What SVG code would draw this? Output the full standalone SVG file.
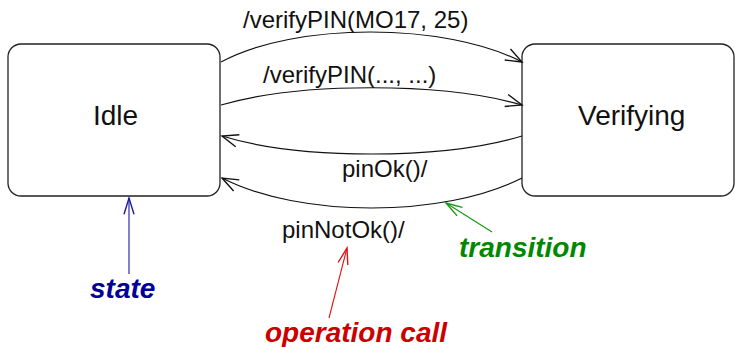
<svg xmlns="http://www.w3.org/2000/svg" width="735" height="347" viewBox="0 0 735 347">
  <style>
    .state rect { fill: #ffffff; stroke: #222222; stroke-width: 1.3; }
    .name { font-family: "Liberation Sans", Arial, sans-serif; font-size: 28px; fill: #111111; }
    .lbl { font-family: "Liberation Sans", Arial, sans-serif; font-size: 24px; fill: #111111; }
    .conn { fill: none; stroke: #111111; stroke-width: 1.2; marker-end: url(#open); }
    .note { font-family: "Liberation Sans", Arial, sans-serif; font-size: 28px; font-weight: bold; font-style: italic; }
    .ptr { fill: none; stroke-width: 1.1; }
  </style>
  <defs>
    <marker id="open" markerUnits="userSpaceOnUse" markerWidth="20" markerHeight="20" viewBox="-14 -8 16 16" refX="0" refY="0" orient="auto">
      <path d="M-13,-5 L0,0 L-13,5" fill="none" stroke="#111111" stroke-width="1.1"/>
    </marker>
    <marker id="openBlue" markerUnits="userSpaceOnUse" markerWidth="20" markerHeight="20" viewBox="-14 -8 16 16" refX="0" refY="0" orient="auto">
      <path d="M-13,-4 L0,0 L-13,4" fill="none" stroke="#1a1aa0" stroke-width="1.1"/>
    </marker>
    <marker id="openGreen" markerUnits="userSpaceOnUse" markerWidth="20" markerHeight="20" viewBox="-14 -8 16 16" refX="0" refY="0" orient="auto">
      <path d="M-13,-4 L0,0 L-13,4" fill="none" stroke="#119911" stroke-width="1.1"/>
    </marker>
    <marker id="openRed" markerUnits="userSpaceOnUse" markerWidth="20" markerHeight="20" viewBox="-14 -8 16 16" refX="0" refY="0" orient="auto">
      <path d="M-13,-4 L0,0 L-13,4" fill="none" stroke="#dd1111" stroke-width="1.1"/>
    </marker>
  </defs>

  <rect width="735" height="347" fill="#ffffff"/>

  <!-- states -->
  <g id="idle" class="state">
    <rect x="8" y="44" width="212" height="152" rx="13" ry="13"/>
    <text class="name" x="93" y="125">Idle</text>
  </g>
  <g id="verifying" class="state">
    <rect x="522" y="44" width="212" height="152" rx="13" ry="13"/>
    <text class="name" x="578" y="125">Verifying</text>
  </g>

  <!-- transitions -->
  <g id="connectors">
    <path class="conn" d="M221,62 C295,22 445,22 522,62"/>
    <path class="conn" d="M221,105 C300,82 443,82 522,105"/>
    <path class="conn" d="M522,136 C443,160 300,160 222,136"/>
    <path class="conn" d="M522,178 C443,218 300,218 222,178"/>
  </g>

  <!-- transition labels -->
  <g id="labels">
    <text class="lbl" x="243" y="28">/verifyPIN(MO17, 25)</text>
    <text class="lbl" x="263" y="83">/verifyPIN(..., ...)</text>
    <text class="lbl" x="342" y="177">pinOk()/</text>
    <text class="lbl" x="282" y="238">pinNotOk()/</text>
  </g>

  <!-- annotations -->
  <g id="note-state">
    <path class="ptr" d="M129,274 L129,198" stroke="#1a1aa0" marker-end="url(#openBlue)"/>
    <text class="note" x="90" y="298" fill="#000099">state</text>
  </g>
  <g id="note-transition">
    <path class="ptr" d="M492,232 L446,203" stroke="#119911" marker-end="url(#openGreen)"/>
    <text class="note" x="459" y="257" fill="#008800">transition</text>
  </g>
  <g id="note-operation">
    <path class="ptr" d="M329,318 L347,248" stroke="#dd1111" marker-end="url(#openRed)"/>
    <text class="note" x="265" y="342" fill="#cc0000">operation call</text>
  </g>
</svg>
